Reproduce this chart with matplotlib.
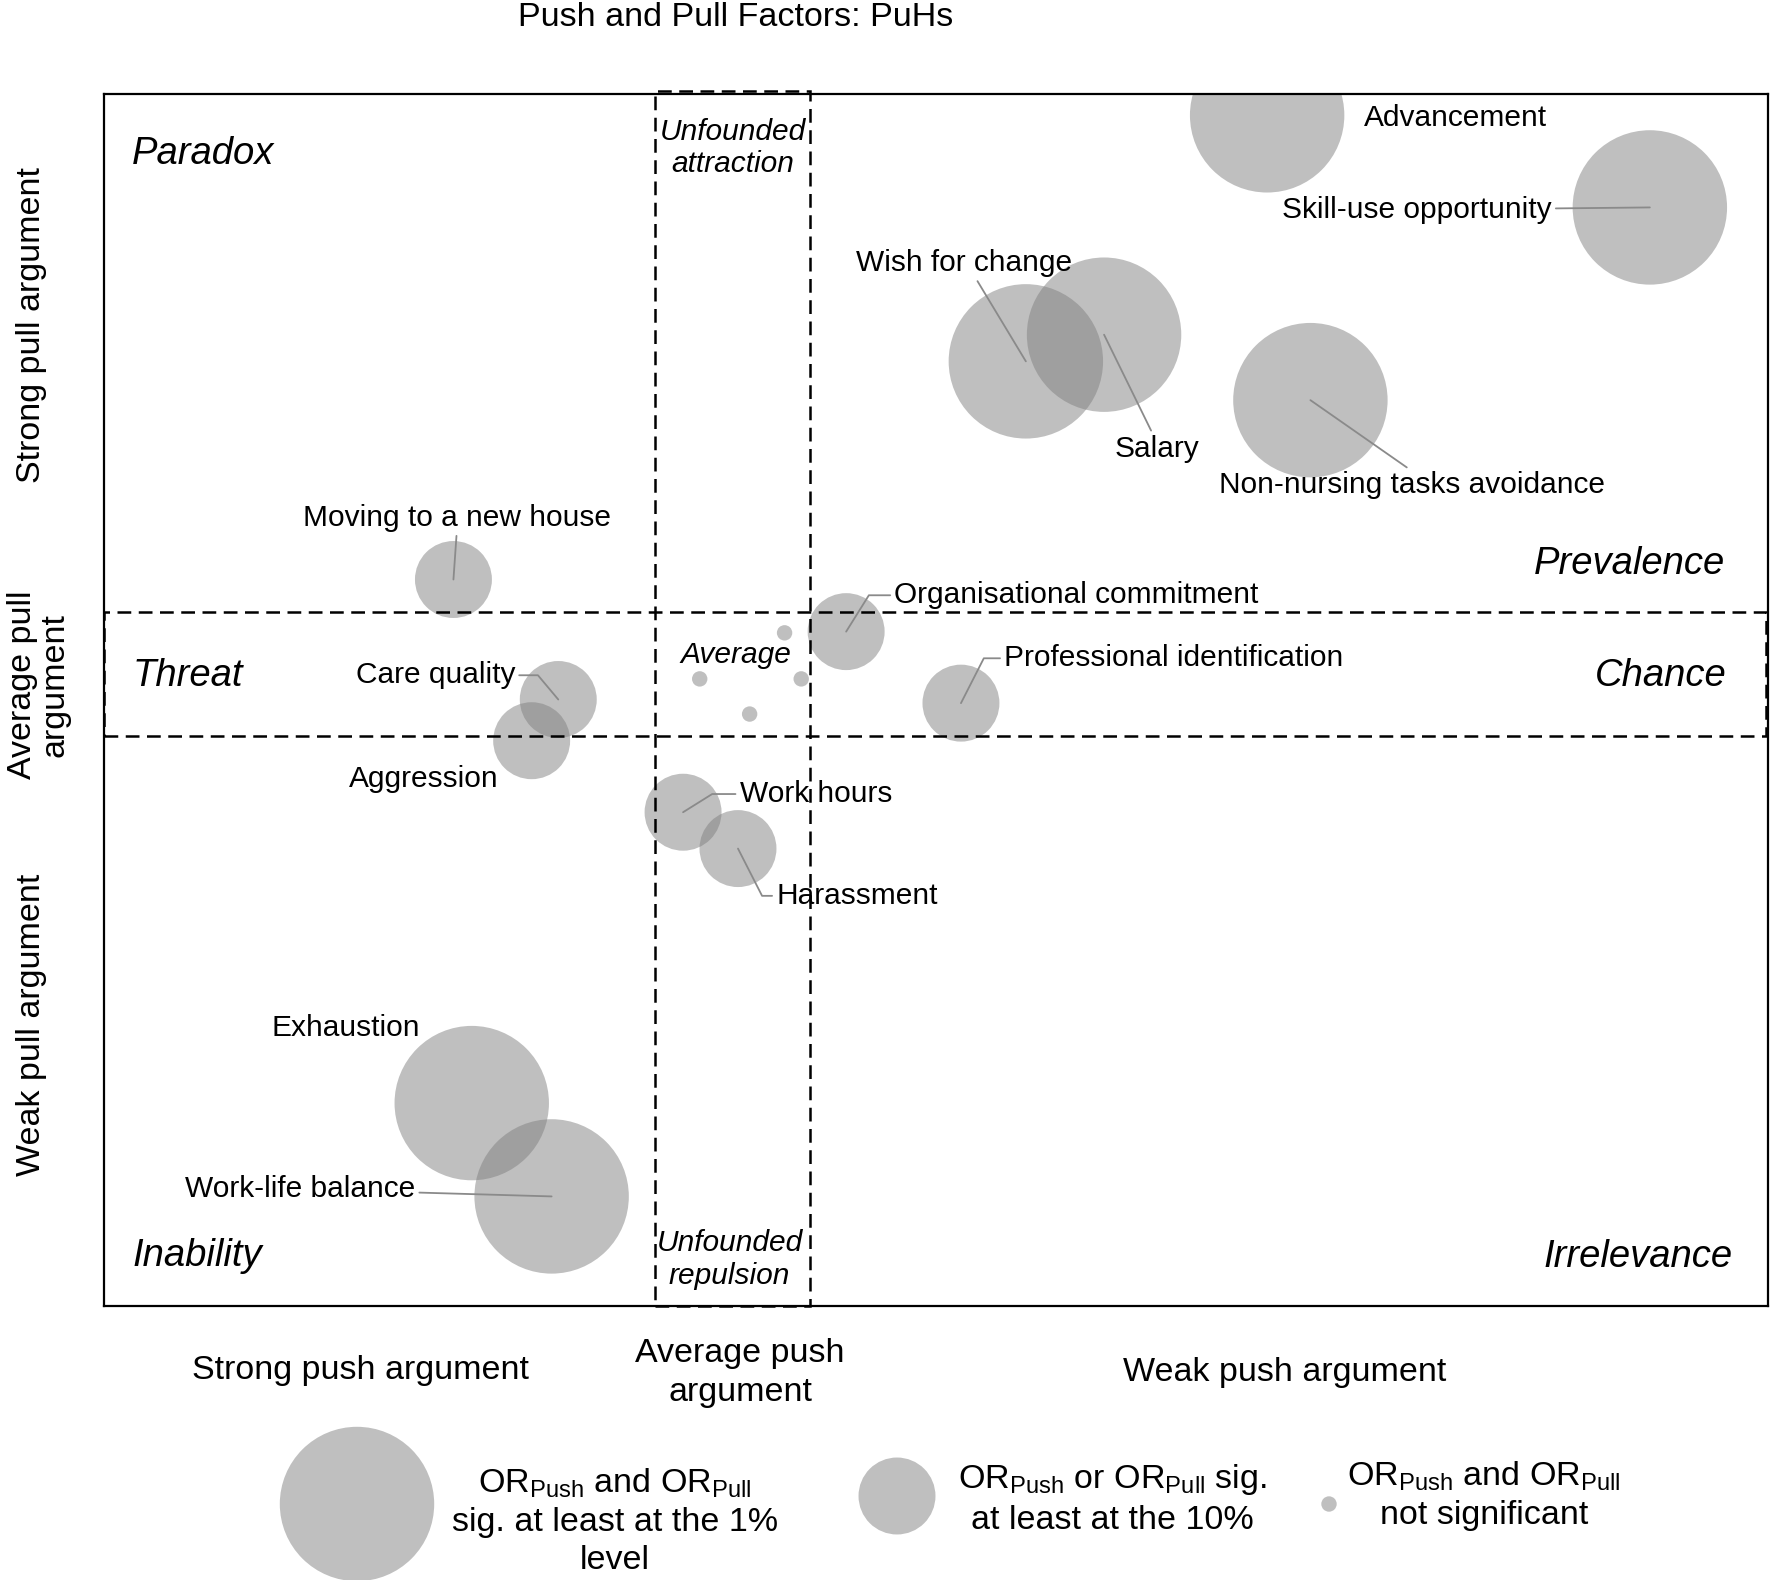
import matplotlib
matplotlib.use('Agg')
import matplotlib.pyplot as plt
from matplotlib.patches import Rectangle

plt.rcParams.update({
    'font.family': 'Liberation Sans',
    'mathtext.fontset': 'custom',
    'mathtext.rm': 'Liberation Sans',
    'mathtext.it': 'Liberation Sans:italic',
})

# ---- data (0-10 scales: push = weak push to the right, pull = strong pull upward)
factors = ['Advancement', 'Skill-use opportunity', 'Wish for change', 'Salary',
           'Non-nursing tasks avoidance', 'Moving to a new house',
           'Organisational commitment', 'Professional identification',
           'Care quality', 'Aggression', 'Work hours', 'Harassment',
           'Exhaustion', 'Work-life balance']
push = [6.99, 9.29, 5.54, 6.01, 7.25, 2.10, 4.46, 5.15, 2.73, 2.57, 3.48, 3.81, 2.21, 2.69]
pull = [9.82, 9.06, 7.79, 8.01, 7.47, 5.99, 5.56, 4.97, 5.00, 4.66, 4.07, 3.77, 1.67, 0.90]
# 2 = OR push and pull sig. at 1 %, 1 = one of them sig. at 10 %, 0 = not significant
signif = [2, 2, 2, 2, 2, 1, 1, 1, 1, 1, 1, 1, 2, 2]

ns_push = [4.09, 3.58, 4.19, 3.88]
ns_pull = [5.55, 5.17, 5.17, 4.88]

push_avg_band = [3.31, 4.24]
pull_avg_band = [4.70, 5.72]

# ---- styles
marker_area = {2: 12360, 1: 3070, 0: 123}
bubble_color = '#808080'
line_color = '#8a8a8a'
dash = (0, (5.5, 3))

# label layout: x, y, ha, leader ('none', 'straight', or angle of the line at the bubble)
label_layout = {
    'Advancement': (8.12, 9.80, 'center', 'none', None),
    'Skill-use opportunity': (8.70, 9.04, 'right', 'straight', None),
    'Wish for change': (5.17, 8.60, 'center', 'straight', (0.55, 0.0)),
    'Salary': (6.33, 7.07, 'center', 'straight', (0.45, 1.0)),
    'Non-nursing tasks avoidance': (7.86, 6.77, 'center', 'straight', (0.5, 1.0)),
    'Moving to a new house': (2.12, 6.50, 'center', 'straight', (0.5, 0.0)),
    'Organisational commitment': (4.75, 5.86, 'left', 58, None),
    'Professional identification': (5.41, 5.34, 'left', 63, None),
    'Care quality': (2.47, 5.20, 'right', 130, None),
    'Aggression': (1.92, 4.34, 'center', 'none', None),
    'Work hours': (3.82, 4.22, 'left', 32, None),
    'Harassment': (4.04, 3.38, 'left', -63, None),
    'Exhaustion': (1.45, 2.29, 'center', 'none', None),
    'Work-life balance': (1.87, 0.96, 'right', 'straight', None),
}

W, H = 1770, 1580
fig = plt.figure(figsize=(W / 100, H / 100), dpi=100)
ax = fig.add_axes([104 / W, 1 - 1305.5 / H, 1664 / W, 1212 / H])
ax.set_xlim(0, 10)
ax.set_ylim(0, 10)
ax.set_xticks([])
ax.set_yticks([])
for s in ax.spines.values():
    s.set_linewidth(1.6)
    s.set_zorder(6)

ax.scatter(push, pull, s=[marker_area[k] for k in signif], color=bubble_color,
           alpha=0.5, edgecolors='none', zorder=2)
ax.scatter(ns_push, ns_pull, s=marker_area[0], color=bubble_color,
           alpha=0.5, edgecolors='none', zorder=2)

# average bands
ax.add_patch(Rectangle((push_avg_band[0], 0), push_avg_band[1] - push_avg_band[0], 10.02,
                       fill=False, ec='black', lw=1.8, ls=dash, zorder=4, clip_on=False))
ax.add_patch(Rectangle((0, pull_avg_band[0]), 9.985, pull_avg_band[1] - pull_avg_band[0],
                       fill=False, ec='black', lw=1.8, ls=dash, zorder=4, clip_on=False))

# factor labels with leader lines
for name, x, y in zip(factors, push, pull):
    tx, ty, ha, leader, rel = label_layout[name]
    if leader == 'none':
        ax.text(tx, ty, name, ha=ha, va='center', fontsize=21.5, zorder=5)
        continue
    if leader == 'straight':
        conn = 'arc3,rad=0'
    else:
        conn = f'angle,angleA=0,angleB={leader},rad=0'
    props = dict(arrowstyle='-', color=line_color, lw=1.3, shrinkA=1, shrinkB=0,
                 connectionstyle=conn)
    if rel is not None:
        props['relpos'] = rel
    ax.annotate(name, xy=(x, y), xytext=(tx, ty), ha=ha, va='center',
                fontsize=21.5, arrowprops=props, zorder=5)

# quadrant names
quad = dict(fontsize=27.5, style='italic', va='center', zorder=5)
ax.text(0.17, 9.50, 'Paradox', ha='left', **quad)
ax.text(0.17, 5.19, 'Threat', ha='left', **quad)
ax.text(0.17, 0.41, 'Inability', ha='left', **quad)
ax.text(9.74, 6.12, 'Prevalence', ha='right', **quad)
ax.text(9.75, 5.19, 'Chance', ha='right', **quad)
ax.text(9.79, 0.40, 'Irrelevance', ha='right', **quad)
mid = dict(fontsize=21.5, style='italic', ha='center', va='center', zorder=5,
           linespacing=1.22)
ax.text(3.78, 9.55, 'Unfounded\nattraction', **mid)
ax.text(3.80, 5.37, 'Average', **mid)
ax.text(3.76, 0.38, 'Unfounded\nrepulsion', **mid)

# outer texts and legend, placed in figure pixels
ov = fig.add_axes([0, 0, 1, 1])
ov.set_xlim(0, W)
ov.set_ylim(H, 0)
ov.axis('off')
ov.patch.set_visible(False)

ov.text(736, 17, 'Push and Pull Factors: PuHs', ha='center', va='center', fontsize=24.5)
ov.text(361, 1370, 'Strong push argument', ha='center', va='center', fontsize=24.5)
ov.text(740, 1373, 'Average push\nargument', ha='center', va='center', fontsize=24.5,
        linespacing=1.32)
ov.text(1285, 1372, 'Weak push argument', ha='center', va='center', fontsize=24.5)
ov.text(32, 325, 'Strong pull argument', ha='center', va='center', fontsize=24.5,
        rotation=90)
ov.text(39, 685, 'Average pull\nargument', ha='center', va='center', fontsize=24.5,
        rotation=90, linespacing=1.05)
ov.text(32, 1025, 'Weak pull argument', ha='center', va='center', fontsize=24.5,
        rotation=90)

ov.scatter([357, 897, 1329], [1504, 1496, 1504],
           s=[marker_area[2], marker_area[1], marker_area[0]],
           color=bubble_color, alpha=0.5, edgecolors='none', clip_on=False)
orp = r'OR$_{\mathrm{Push}}$'
orl = r'OR$_{\mathrm{Pull}}$'
ov.text(615, 1521, f'{orp} and {orl}\nsig. at least at the 1%\nlevel', ha='center',
        va='center', fontsize=24.5, linespacing=1.3)
ov.text(1112, 1499, f'{orp} or {orl} sig.\nat least at the 10%', ha='center',
        va='center', fontsize=24.5, linespacing=1.3)
ov.text(1484, 1495, f'{orp} and {orl}\nnot significant', ha='center',
        va='center', fontsize=24.5, linespacing=1.3)

fig.savefig('out.png', dpi=100)
